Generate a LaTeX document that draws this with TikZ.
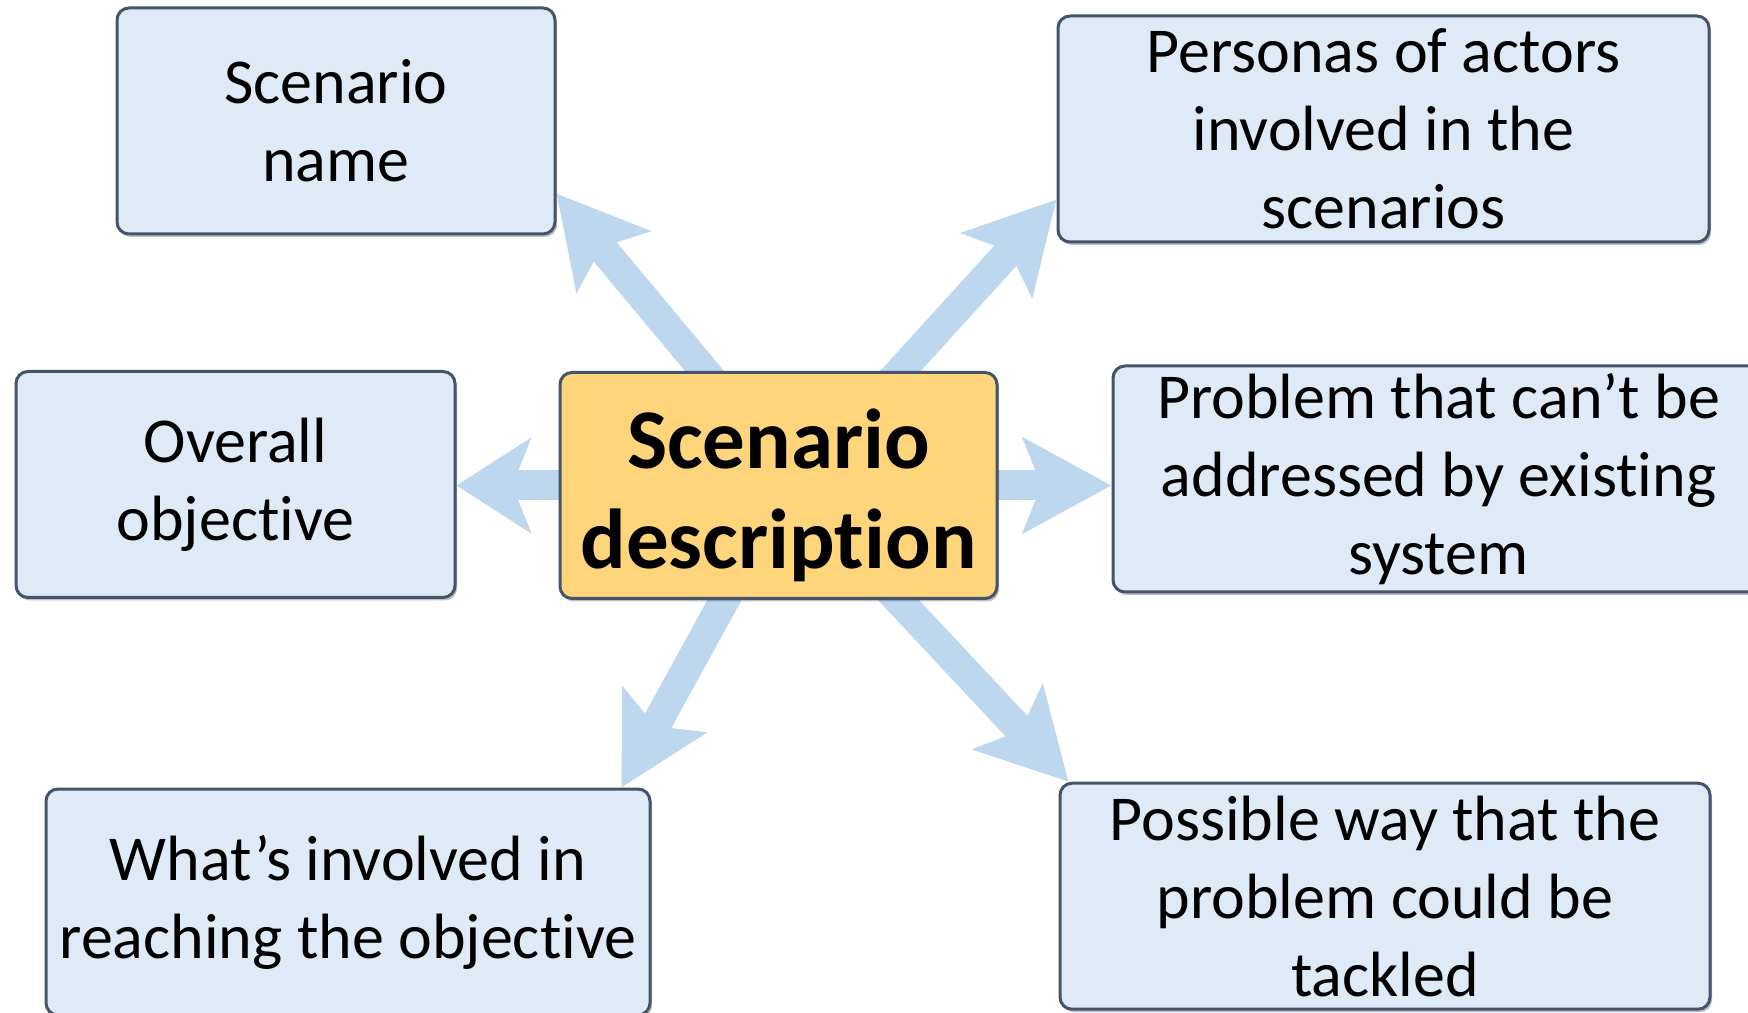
\documentclass[tikz,border=0pt]{standalone}
\usepackage{fontspec}
\setmainfont{Carlito}[Ligatures=NoCommon]
\usetikzlibrary{arrows.meta,positioning,calc,backgrounds,shadows}
\definecolor{boxfill}{HTML}{DEEAF6}
\definecolor{boxline}{HTML}{44546A}
\definecolor{arrfill}{HTML}{BDD7EE}
\definecolor{ctrfill}{HTML}{FED57A}
\tikzset{
  box/.style={draw=boxline,line width=1.5pt,rounded corners=6pt,fill=#1,minimum height=113pt,inner sep=0pt,align=center,font=\fontsize{32}{39}\selectfont,drop shadow={shadow xshift=1pt,shadow yshift=-1.5pt,opacity=.25,fill=black}},
  box/.default={boxfill},
  bigarr/.style={-{Stealth[length=#1,width=47pt,inset=9pt]},line width=15pt,draw=arrfill,shorten <=-12pt},
  bigarr/.default={44pt},
}

\begin{document}
\begin{tikzpicture}[x=1pt,y=1pt]
 \useasboundingbox (0,0) rectangle (874,506);
 \node[box,minimum width=219pt] (name) at (168,445.5){Scenario\\name};
 \node[box,minimum width=325.5pt] (pers) at (691.75,441.5){Personas of actors\\involved in the\\scenarios};
 \node[box,minimum width=219.5pt] (ovr) at (117.75,263.75){Overall\\objective};
 \node[box,minimum width=325.5pt] (prob) at (719.25,266.5){Problem that can’t be\\addressed by existing\\system};
 \node[box,minimum width=302pt] (what) at (174,55){What’s involved in\\reaching the objective};
 \node[box,minimum width=325pt] (poss) at (692.5,57.9){Possible way that the\\problem could be\\tackled};
 \node[box=ctrfill,minimum width=218.5pt,font=\fontsize{42.5}{50}\selectfont\bfseries] (ctr) at (389.25,263.25){\rule{0pt}{40pt}Scenario\\description};
 % arrows go under the boxes
 \begin{scope}[on background layer]
  \draw[bigarr] ([xshift=-37pt]ctr.north) -- ([yshift=21pt]name.south east);
  \draw[bigarr] ([xshift=61pt]ctr.north) -- ([yshift=22pt]pers.south west);
  \draw[bigarr=37pt] (ctr.west) -- (ctr.west -| ovr.east);
  \draw[bigarr] (ctr.east) -- (ctr.east -| prob.west);
  \draw[bigarr] ([xshift=-27pt]ctr.south) -- ([xshift=-15pt]what.north east);
  \draw[bigarr] ([xshift=60pt]ctr.south) -- ([xshift=5pt]poss.north west);
 \end{scope}
\end{tikzpicture}
\end{document}
